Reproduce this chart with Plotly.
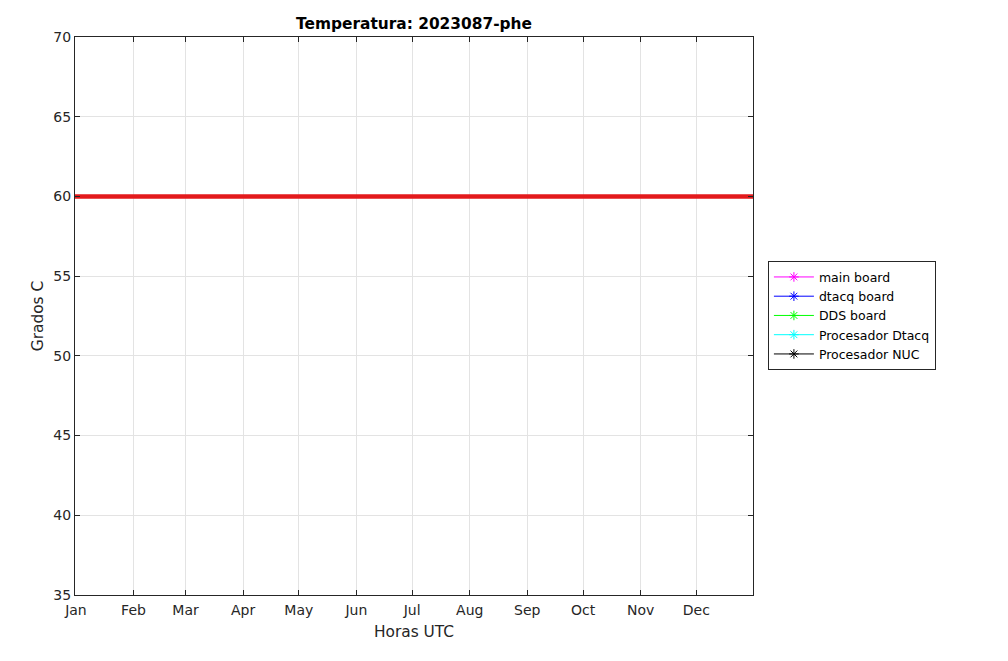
import plotly.graph_objects as go

# Data
series_names = ["main board", "dtacq board", "DDS board", "Procesador Dtacq", "Procesador NUC"]
series_colors = ["#ff00ff", "#0000ff", "#00ff00", "#00ffff", "#000000"]
threshold_x = ["2022-12-31 12:00", "2023-12-31 12:00"]
threshold_y = [60, 60]
month_ticks = ["2023-01-01", "2023-02-01", "2023-03-01", "2023-04-01", "2023-05-01", "2023-06-01",
               "2023-07-01", "2023-08-01", "2023-09-01", "2023-10-01", "2023-11-01", "2023-12-01"]
month_labels = ["Jan", "Feb", "Mar", "Apr", "May", "Jun", "Jul", "Aug", "Sep", "Oct", "Nov", "Dec"]
y_ticks = [35, 40, 45, 50, 55, 60, 65, 70]

fig = go.Figure()

fig.add_trace(go.Scatter(x=threshold_x, y=threshold_y, mode="lines",
                         line=dict(color="#e31a1c", width=4.5), showlegend=False, hoverinfo="skip"))

for name, color in zip(series_names, series_colors):
    fig.add_trace(go.Scatter(x=[None], y=[None], mode="lines+markers", name=name,
                             line=dict(color=color, width=1),
                             marker=dict(symbol="asterisk-open", size=8, color=color,
                                         line=dict(color=color, width=1))))

axis_common = dict(showline=True, linecolor="#262626", linewidth=1, mirror="ticks",
                   ticks="inside", ticklen=5, tickcolor="#262626",
                   showgrid=True, gridcolor="#e3e3e3", gridwidth=1, zeroline=False,
                   tickfont=dict(family="DejaVu Sans", size=14, color="#262626"))

fig.update_layout(
    width=1008, height=661,
    margin=dict(l=67, r=263, t=29, b=74),
    paper_bgcolor="white", plot_bgcolor="white",
    title=dict(text="<b>Temperatura: 2023087-phe</b>", x=406 / 1008, xanchor="center",
               y=1 - 16 / 661, yanchor="middle",
               font=dict(family="DejaVu Sans", size=15.4, color="black")),
    xaxis=dict(range=threshold_x, tickvals=month_ticks, ticktext=month_labels,
               ticklabelstandoff=2,
               title=dict(text="Horas UTC", font=dict(family="DejaVu Sans", size=15.4, color="#262626"), standoff=9),
               **axis_common),
    yaxis=dict(range=[35, 70], tickvals=y_ticks,
               title=dict(text="Grados C", font=dict(family="DejaVu Sans", size=15.4, color="#262626"), standoff=5),
               **axis_common),
    legend=dict(x=1.022, xanchor="left", y=0.598, yanchor="top",
                bordercolor="#262626", borderwidth=1, bgcolor="white",
                font=dict(family="DejaVu Sans", size=12.5, color="black"),
                tracegroupgap=0, itemwidth=40),
    showlegend=True,
)

fig.write_html("out.html")
